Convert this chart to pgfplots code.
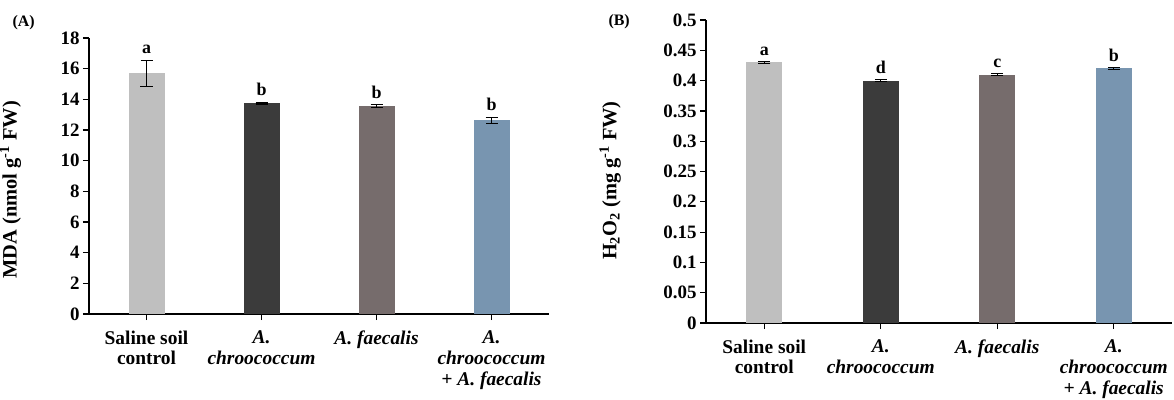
\documentclass[border=0pt]{standalone}
\usepackage{fontspec}
\setmainfont{Liberation Serif}
\usepackage{pgfplots}
\pgfplotsset{compat=1.18}
\definecolor{cLight}{HTML}{BFBFBF}
\definecolor{cDark}{HTML}{3B3B3B}
\definecolor{cTaupe}{HTML}{766C6C}
\definecolor{cBlue}{HTML}{7895B0}
\pgfplotsset{
  panel/.style={
    scale only axis,
    anchor=south west,
    xmin=-0.5, xmax=3.5,
    xtick={0,1,2,3},
    xticklabels={{Saline soil\\control},{\textit{A.}\\\textit{chroococcum}},{\textit{A. faecalis}},{\textit{A.}\\\textit{chroococcum}\\\textit{+ A. faecalis}}},
    xticklabel style={align=center, font=\bfseries\fontsize{19.5}{21}\selectfont, anchor=north, yshift=-7bp},
    yticklabel style={font=\bfseries\fontsize{19}{20}\selectfont},
    /pgf/number format/assume math mode=true,
    axis x line*=bottom, axis y line*=left,
    axis line style={line width=1.2bp, black},
    tick align=outside,
    major tick length=6bp,
    tick style={line width=1.2bp, black},
    ylabel style={font=\bfseries\fontsize{20.5}{22}\selectfont},
    clip=false,
  },
  barA/.style={ybar, bar width=36bp, bar shift=0pt, draw=none, fill=#1,
    error bars/.cd, y dir=both, y explicit,
    error bar style={line width=1.3bp, black},
    error mark options={rotate=90, mark size=6bp, line width=1.3bp, black}},
  letters/.style={only marks, mark=none, nodes near coords, point meta=explicit symbolic,
    nodes near coords style={anchor=south, font=\bfseries\fontsize{18}{20}\selectfont, yshift=#1}},
}
\begin{document}
\begin{tikzpicture}
\useasboundingbox (0,0) rectangle (1174bp,400bp);
\begin{axis}[panel, at={(89bp,86bp)}, width=460bp, height=276bp,
  ymin=0, ymax=18, ytick={0,2,...,18},
  ylabel={MDA (nmol g\textsuperscript{-1} FW)},
  ylabel style={at={(axis description cs:-0.14,0.45)}, anchor=south},
]
\addplot[barA=cLight] coordinates {(0,15.7) +- (0,0.85)};
\addplot[barA=cDark] coordinates {(1,13.75) +- (0,0.05)};
\addplot[barA=cTaupe] coordinates {(2,13.57) +- (0,0.08)};
\addplot[barA=cBlue] coordinates {(3,12.62) +- (0,0.2)};
\addplot[letters=3bp] coordinates {(0,16.55) [a] (1,13.8) [b] (2,13.65) [b] (3,12.82) [b]};
\end{axis}
\node[anchor=west, font=\bfseries\fontsize{16}{18}\selectfont] at (9bp,377bp) {(A)};
\begin{axis}[panel, at={(706bp,77bp)}, width=466bp, height=303bp,
  ymin=0, ymax=0.5, ytick={0,0.05,...,0.5},
  yticklabel style={/pgf/number format/.cd, fixed, precision=2},
  ylabel={H\textsubscript{2}O\textsubscript{2} (mg g\textsuperscript{-1} FW)},
  ylabel style={at={(axis description cs:-0.175,0.47)}, anchor=south},
]
\addplot[barA=cLight] coordinates {(0,0.43) +- (0,0.0015)};
\addplot[barA=cDark] coordinates {(1,0.40) +- (0,0.0015)};
\addplot[barA=cTaupe] coordinates {(2,0.41) +- (0,0.0015)};
\addplot[barA=cBlue] coordinates {(3,0.42) +- (0,0.0015)};
\addplot[letters=2bp] coordinates {(0,0.4315) [a] (1,0.4015) [d] (2,0.4115) [c] (3,0.4215) [b]};
\end{axis}
\node[anchor=west, font=\bfseries\fontsize{16}{18}\selectfont] at (605bp,378bp) {(B)};
\end{tikzpicture}
\end{document}
